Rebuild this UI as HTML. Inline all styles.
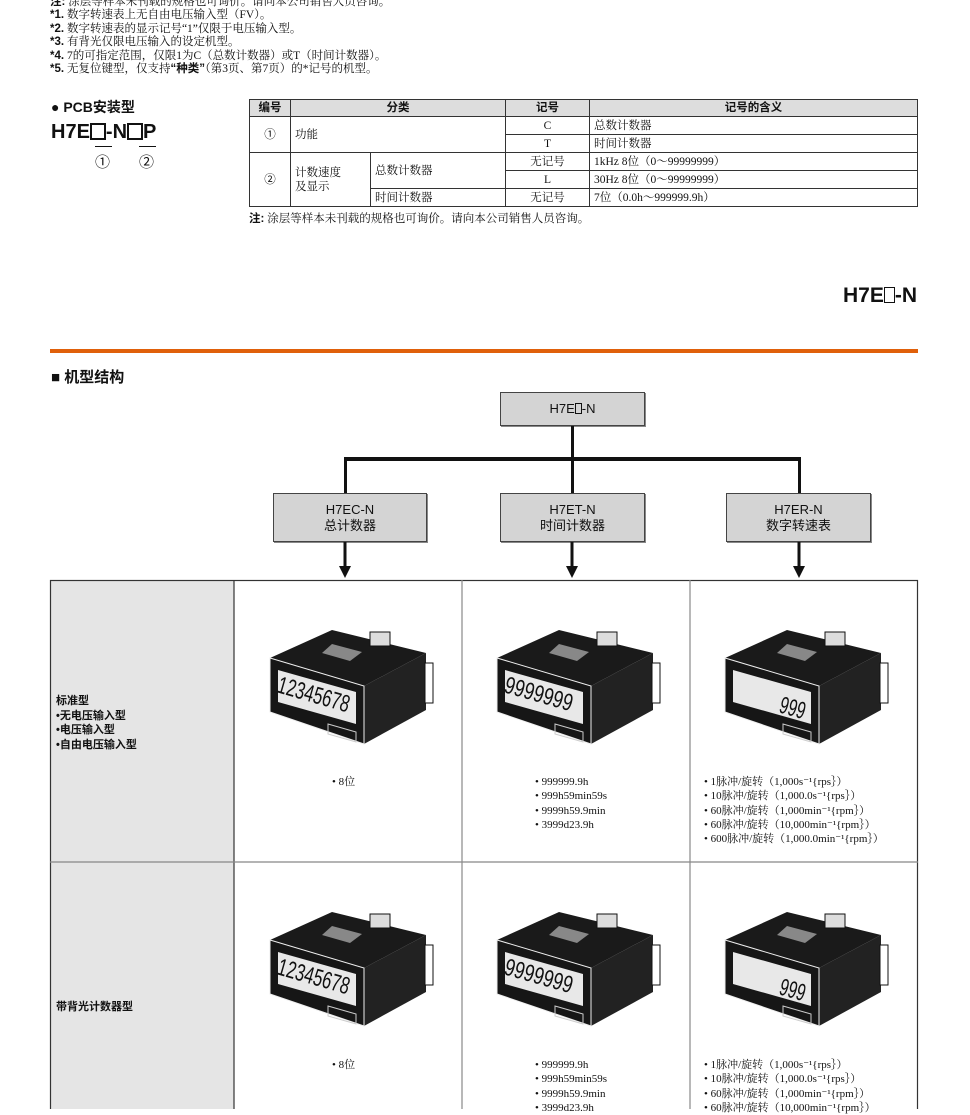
<!DOCTYPE html>
<html><head><meta charset="utf-8"><style>
*{margin:0;padding:0;box-sizing:border-box}
body{width:970px;height:1109px;overflow:hidden;background:#fff;position:relative;font-family:"Liberation Serif","Noto Serif CJK SC","Noto Sans CJK SC",serif;color:#111}
.a{position:absolute;white-space:nowrap}
.s{font-family:"Liberation Sans","Noto Sans CJK SC",sans-serif}
.b{font-weight:bold}
.n{font-size:11.5px;line-height:14px}
table.sp{position:absolute;left:249px;top:99px;width:669px;border-collapse:collapse;font-size:11.5px}
table.sp td{border:1px solid #333;height:18px;padding:0 4px;line-height:16px}
table.sp tr.h td{background:#ddd;font-family:"Liberation Sans","Noto Sans CJK SC",sans-serif;font-weight:bold;text-align:center;height:17px}
.box{position:absolute;background:#d4d4d4;border:1px solid #444;box-shadow:1px 1px 0 #888;font-family:"Liberation Sans","Noto Sans CJK SC",sans-serif;font-size:13px;text-align:center;line-height:16px}
.ln{position:absolute;background:#111}
.li{font-size:11px;line-height:14.3px}
</style></head><body>
<div class="a n" style="left:50px;top:-5px"><b class="s">注:</b> 涂层等样本未刊载的规格也可询价。请向本公司销售人员咨询。</div>
<div class="a n" style="left:50px;top:8px"><b class="s">*1.</b> 数字转速表上无自由电压输入型（FV）。</div>
<div class="a n" style="left:50px;top:22px"><b class="s">*2.</b> 数字转速表的显示记号“1”仅限于电压输入型。</div>
<div class="a n" style="left:50px;top:35px"><b class="s">*3.</b> 有背光仅限电压输入的设定机型。</div>
<div class="a n" style="left:50px;top:49px"><b class="s">*4.</b> 7的可指定范围，仅限1为C（总数计数器）或T（时间计数器）。</div>
<div class="a n" style="left:50px;top:62px"><b class="s">*5.</b> 无复位键型，仅支持<b class="s">“种类”</b>（第3页、第7页）的*记号的机型。</div>

<div class="a s b" style="left:51px;top:97px;font-size:14px">● PCB安装型</div>
<div class="a s b" style="left:51px;top:121px;font-size:20px;letter-spacing:0">H7E<span style="display:inline-block;width:16px;height:17px;border:2px solid #111;vertical-align:-2px"></span>-N<span style="display:inline-block;width:16px;height:17px;border:2px solid #111;vertical-align:-2px"></span>P</div>
<div class="ln" style="left:95px;top:146px;width:17px;height:1px"></div>
<div class="ln" style="left:139px;top:146px;width:17px;height:1px"></div>
<div class="a s" style="left:95px;top:151px;font-size:15px">①</div>
<div class="a s" style="left:139px;top:151px;font-size:15px">②</div>

<table class="sp">
<tr class="h"><td style="width:41px">编号</td><td colspan="2">分类</td><td style="width:84px">记号</td><td>记号的含义</td></tr>
<tr><td rowspan="2" style="text-align:center" class="s">①</td><td colspan="2" rowspan="2">功能</td><td style="text-align:center">C</td><td>总数计数器</td></tr>
<tr><td style="text-align:center">T</td><td>时间计数器</td></tr>
<tr><td rowspan="3" style="text-align:center" class="s">②</td><td rowspan="3" style="width:80px;line-height:14px">计数速度<br>及显示</td><td rowspan="2" style="width:135px">总数计数器</td><td style="text-align:center">无记号</td><td>1kHz 8位（0～99999999）</td></tr>
<tr><td style="text-align:center">L</td><td>30Hz 8位（0～99999999）</td></tr>
<tr><td>时间计数器</td><td style="text-align:center">无记号</td><td>7位（0.0h～999999.9h）</td></tr>
</table>
<div class="a n" style="left:249px;top:212px"><b class="s">注:</b> 涂层等样本未刊载的规格也可询价。请向本公司销售人员咨询。</div>

<div class="a s b" style="right:53px;top:284px;font-size:21px">H7E<span style="display:inline-block;width:11px;height:16px;border:1.5px solid #111;vertical-align:-1px"></span>-N</div>
<div class="ln" style="left:50px;top:349px;width:868px;height:4px;background:#e0600a"></div>
<div class="a s b" style="left:51px;top:366px;font-size:15px">■ 机型结构</div>

<div class="box" style="left:500px;top:392px;width:145px;height:34px;line-height:32px">H7E<span style="display:inline-block;width:7px;height:11px;border:1px solid #111;vertical-align:-1px"></span>-N</div>
<div class="ln" style="left:571px;top:426px;width:3px;height:67px"></div>
<div class="ln" style="left:344px;top:457px;width:457px;height:4px"></div>
<div class="ln" style="left:344px;top:457px;width:3px;height:36px"></div>
<div class="ln" style="left:798px;top:457px;width:3px;height:36px"></div>
<div class="box" style="left:273px;top:493px;width:154px;height:49px;padding-top:8px">H7EC-N<br>总计数器</div>
<div class="box" style="left:500px;top:493px;width:145px;height:49px;padding-top:8px">H7ET-N<br>时间计数器</div>
<div class="box" style="left:726px;top:493px;width:145px;height:49px;padding-top:8px">H7ER-N<br>数字转速表</div>
<svg class="a" style="left:0;top:0" width="970" height="1109">
<g fill="#111" stroke="#111" stroke-width="3">
<line x1="345" y1="542" x2="345" y2="567"/><line x1="572" y1="542" x2="572" y2="567"/><line x1="799" y1="542" x2="799" y2="567"/>
</g>
<g fill="#111"><polygon points="339,566 351,566 345,578"/><polygon points="566,566 578,566 572,578"/><polygon points="793,566 805,566 799,578"/></g>
<rect x="50" y="580" width="184" height="540" fill="#e5e5e5"/>
<g stroke="#333" stroke-width="1.2" fill="none">
<rect x="50.5" y="580.5" width="867" height="540"/>
<line x1="234" y1="580" x2="234" y2="1109"/><line x1="462" y1="580" x2="462" y2="1109" stroke="#888"/><line x1="690" y1="580" x2="690" y2="1109" stroke="#888"/>
<line x1="50" y1="862" x2="918" y2="862" stroke="#888"/>
</g>
<defs>
<g id="dev">
<polygon points="0,0 62,-28 156,-5 94,28" fill="#1a1a1a"/>
<polygon points="94,28 156,-5 156,52 94,86" fill="#222"/>
<rect x="100" y="-26" width="20" height="14" fill="#ddd" stroke="#111"/>
<rect x="155" y="5" width="8" height="40" fill="#fff" stroke="#111"/>
<polygon points="0,0 94,28 94,86 0,54" fill="#161616" stroke="#eee" stroke-width="1"/>
<polygon points="62,-14 92,-6 80,3 52,-5" fill="#888"/>
<polygon points="8,12 86,34 86,66 8,44" fill="#e8e8e8"/>
<polygon points="58,66 86,74 86,84 58,76" fill="none" stroke="#ccc"/>
</g>
</defs>
<use href="#dev" x="270" y="658"/><use href="#dev" x="497" y="658"/><use href="#dev" x="725" y="658"/>
<use href="#dev" x="270" y="940"/><use href="#dev" x="497" y="940"/><use href="#dev" x="725" y="940"/>
<g font-family="Liberation Sans,sans-serif" font-size="24" fill="#111">
<text x="276" y="692" transform="rotate(16 276 692)" textLength="74" lengthAdjust="spacingAndGlyphs">12345678</text>
<text x="503" y="692" transform="rotate(16 503 692)" textLength="70" lengthAdjust="spacingAndGlyphs">9999999</text>
<text x="778" y="712" transform="rotate(16 778 712)" textLength="26" lengthAdjust="spacingAndGlyphs">999</text>
<text x="276" y="974" transform="rotate(16 276 974)" textLength="74" lengthAdjust="spacingAndGlyphs">12345678</text>
<text x="503" y="974" transform="rotate(16 503 974)" textLength="70" lengthAdjust="spacingAndGlyphs">9999999</text>
<text x="778" y="994" transform="rotate(16 778 994)" textLength="26" lengthAdjust="spacingAndGlyphs">999</text>
</g>
</svg>
<div class="a s b" style="left:56px;top:694px;font-size:11px;line-height:14.5px">标准型<br>•无电压输入型<br>•电压输入型<br>•自由电压输入型</div>
<div class="a s b" style="left:56px;top:998px;font-size:11px">带背光计数器型</div>
<div class="a li" style="left:332px;top:775px">• 8位</div>
<div class="a li" style="left:535px;top:775px">• 999999.9h<br>• 999h59min59s<br>• 9999h59.9min<br>• 3999d23.9h</div>
<div class="a li" style="left:704px;top:775px">• 1脉冲/旋转（1,000s⁻¹{rps｝）<br>• 10脉冲/旋转（1,000.0s⁻¹{rps｝）<br>• 60脉冲/旋转（1,000min⁻¹{rpm｝）<br>• 60脉冲/旋转（10,000min⁻¹{rpm｝）<br>• 600脉冲/旋转（1,000.0min⁻¹{rpm｝）</div>
<div class="a li" style="left:332px;top:1058px">• 8位</div>
<div class="a li" style="left:535px;top:1058px">• 999999.9h<br>• 999h59min59s<br>• 9999h59.9min<br>• 3999d23.9h</div>
<div class="a li" style="left:704px;top:1058px">• 1脉冲/旋转（1,000s⁻¹{rps｝）<br>• 10脉冲/旋转（1,000.0s⁻¹{rps｝）<br>• 60脉冲/旋转（1,000min⁻¹{rpm｝）<br>• 60脉冲/旋转（10,000min⁻¹{rpm｝）</div>
</body></html>
